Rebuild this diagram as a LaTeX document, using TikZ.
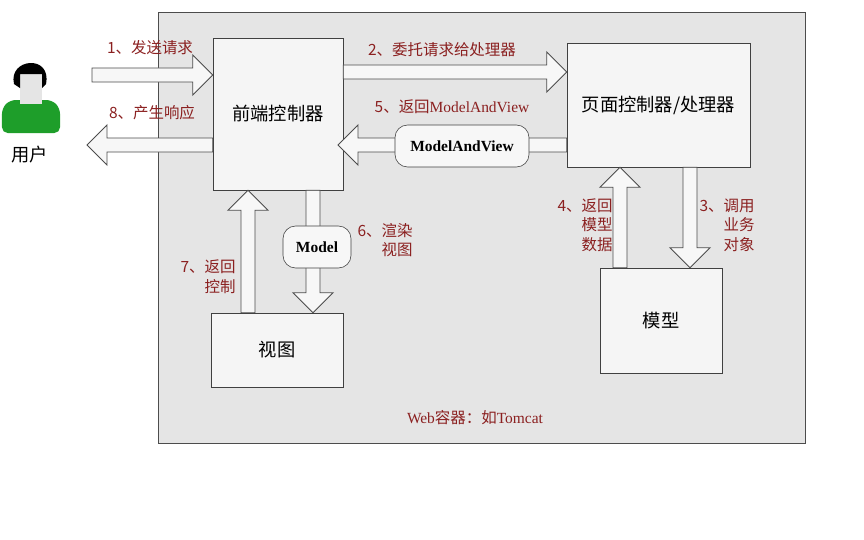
\documentclass[tikz,border=0pt]{standalone}
\usepackage{fontspec}
\setmainfont{Liberation Serif}
\newfontfamily\cjk{Noto Sans CJK SC}
\usetikzlibrary{positioning,calc}
\definecolor{labelred}{HTML}{8B2020}
\definecolor{usergreen}{HTML}{1E9E2A}
\tikzset{
  box/.style={draw=black!75, fill=black!4, minimum width=#1, font=\cjk\fontsize{13}{15}\selectfont},
  blockarrow/.style={draw=black!70, fill=black!3, line width=0.6pt},
  steplabel/.style={text=labelred, font=\cjk\fontsize{11}{14}\selectfont, align=right},
  tag/.style={draw=black!75, fill=black!3, rounded corners=9pt, font=\bfseries\fontsize{11}{12}\selectfont, inner sep=4pt}
}
% hollow block arrow from #1 to #2
\newcommand{\blockarrow}[2]{%
  \coordinate (h) at ($(#2)!0.5cm!(#1)$);
  \draw[blockarrow] ($(#1)!0.175cm!90:(#2)$) -- ($(h)!0.175cm!-90:(#1)$)
    -- ($(h)!0.5cm!-90:(#1)$) -- (#2) -- ($(h)!0.5cm!90:(#1)$)
    -- ($(h)!0.175cm!90:(#1)$) -- ($(#1)!0.175cm!-90:(#2)$) -- cycle;}
\begin{document}
\begin{tikzpicture}[x=0.025cm,y=-0.025cm]
  \useasboundingbox (0,0) rectangle (864,540);
  % container
  \draw[draw=black!70, fill=black!10] (158,12) rectangle (805,443);
  \node[text=labelred, font=\fontsize{11}{12}\selectfont] (web) at (475,418) {Web{\cjk 容器：如}Tomcat};

  % Nodes
  \node[box=3.25cm, minimum height=3.8cm] (fc) at (278,114) {前端控制器};
  \node[box=4.57cm, minimum height=3.1cm] (pc) at (658.5,105) {页面控制器/处理器};
  \node[box=3.05cm, minimum height=2.62cm] (model) at (661,320.5) {模型};
  \node[box=3.3cm, minimum height=1.85cm] (view) at (277,350) {视图};

  % user
  \fill[usergreen, rounded corners=4pt] (2,133) -- (2,108) -- (10,100) -- (52,100) -- (60,108) -- (60,133) -- cycle;
  \fill[black!10] (20,72) rectangle (42,104);
  \fill[black] (14,84) .. controls (8,58) and (52,54) .. (46,84) -- (42,88) -- (42,74) -- (20,74) -- (20,88) -- cycle;
  \node[font=\cjk\fontsize{13}{15}\selectfont] (user) at (30,155) {用户};

  % Arrows
  \coordinate (u1) at (92,75);
  \coordinate (u8) at (87,145);
  \blockarrow{u1}{fc.west |- u1}
  \blockarrow{fc.west |- u8}{u8}
  \blockarrow{fc.east |- 0,72}{pc.west |- 0,72}
  \blockarrow{pc.west |- 0,145}{338,145}
  \blockarrow{fc.south -| 313,0}{view.north -| 313,0}
  \blockarrow{view.north -| 248,0}{fc.south -| 248,0}
  \blockarrow{pc.south -| 690,0}{model.north -| 690,0}
  \blockarrow{model.north -| 620,0}{pc.south -| 620,0}

  \node[tag, minimum width=3.35cm, minimum height=1.05cm] (mav) at (462,146) {ModelAndView};
  \node[tag, minimum width=1.7cm, minimum height=1.05cm] (mdl) at (317,247) {Model};

  % labels
  \node[steplabel] (l1) at (150,48) {1、发送请求};
  \node[steplabel] (l8) at (152,113) {8、产生响应};
  \node[steplabel] (l2) at (442,50) {2、委托请求给处理器};
  \node[steplabel] (l5) at (452,107) {5、返回{\rmfamily ModelAndView}};
  \node[steplabel] (l6) at (385,240) {6、渲染\\视图};
  \node[steplabel] (l7) at (208,277) {7、返回\\控制};
  \node[steplabel] (l4) at (585,225) {4、返回\\模型\\数据};
  \node[steplabel] (l3) at (727,225) {3、调用\\业务\\对象};
\end{tikzpicture}
\end{document}
